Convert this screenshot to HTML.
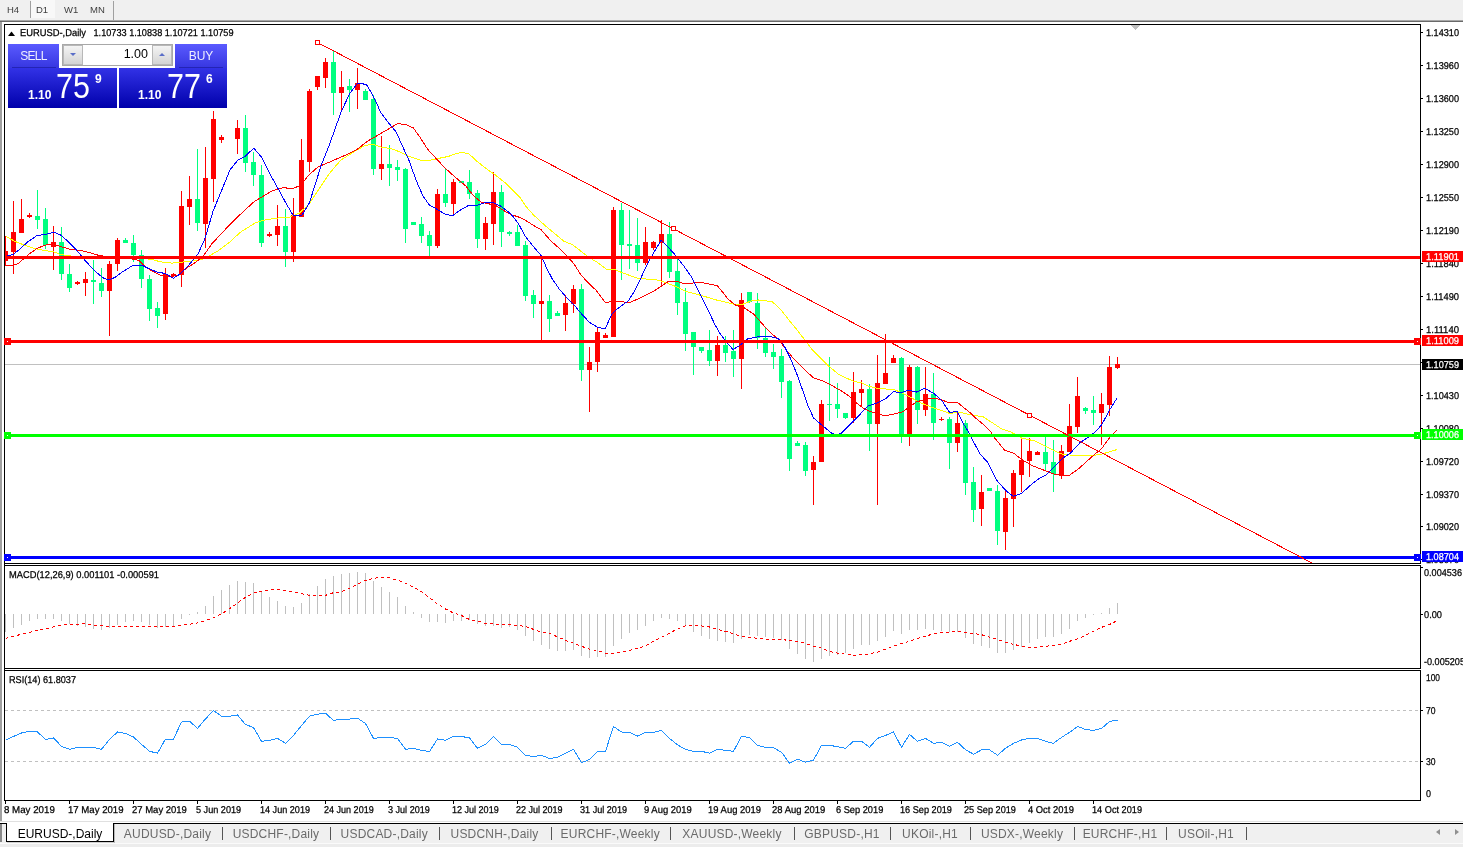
<!DOCTYPE html>
<html><head><meta charset="utf-8"><title>EURUSD-,Daily</title>
<style>
html,body{margin:0;padding:0;background:#fff;}
body{width:1463px;height:847px;position:relative;overflow:hidden;font-family:"Liberation Sans",sans-serif;}
.abs{position:absolute;}
#tb{left:0;top:0;width:1463px;height:20px;background:#f0f0f0;}
#tb span{position:absolute;top:4px;font-size:9.5px;color:#404040;}
#tabs{left:0;top:824px;width:1463px;height:19px;background:#f0f0f0;}
#tabs span{position:absolute;top:3px;font-size:12px;letter-spacing:0.2px;color:#6a6a6a;white-space:nowrap;}
#tabs i{position:absolute;top:3px;width:1px;height:13px;background:#555;}
.btn{background:linear-gradient(#5a5aff,#3636e0);color:#eef;font-size:12px;text-align:center;}
.pp{background:linear-gradient(#3232e6,#0000aa);color:#fff;}
.pp span{position:absolute;white-space:nowrap;}
</style></head><body>
<div id="tb" class="abs"><div class="abs" style="left:31px;top:0;width:24px;height:18px;background:#f8f8f8"></div><span style="left:7px">H4</span><span style="left:36px">D1</span><span style="left:64px">W1</span><span style="left:90px">MN</span>
<div class="abs" style="left:30px;top:1px;width:1px;height:17px;background:#a0a0a0"></div>
<div class="abs" style="left:113px;top:1px;width:1px;height:19px;background:#a0a0a0"></div></div>
<div class="abs" style="left:0;top:20px;width:1463px;height:1px;background:#a8a8a8"></div>
<div class="abs" style="left:0;top:21px;width:1463px;height:1px;background:#696969"></div>
<div class="abs" style="left:0;top:22px;width:2px;height:800px;background:#a0a0a0"></div>
<svg width="1463" height="847" viewBox="0 0 1463 847" style="position:absolute;left:0;top:0" shape-rendering="crispEdges" font-family="'Liberation Sans', sans-serif">
<rect x="4" y="24" width="1417" height="1" fill="#000"/>
<rect x="4" y="24" width="1" height="777" fill="#000"/>
<rect x="1420" y="24" width="1" height="540" fill="#000"/>
<rect x="4" y="563" width="1417" height="1" fill="#000"/>
<rect x="4" y="565" width="1417" height="1" fill="#000"/>
<rect x="1420" y="565" width="1" height="104" fill="#000"/>
<rect x="4" y="668" width="1417" height="1" fill="#000"/>
<rect x="4" y="670" width="1417" height="1" fill="#000"/>
<rect x="1420" y="670" width="1" height="131" fill="#000"/>
<rect x="4" y="800" width="1417" height="1" fill="#000"/>
<rect x="1131" y="25" width="9" height="1" fill="#c0c0c0"/>
<rect x="1132" y="26" width="7" height="1" fill="#c0c0c0"/>
<rect x="1133" y="27" width="5" height="1" fill="#c0c0c0"/>
<rect x="1134" y="28" width="3" height="1" fill="#c0c0c0"/>
<rect x="1135" y="29" width="1" height="1" fill="#c0c0c0"/>
<rect x="5" y="364" width="1415" height="1" fill="#c0c0c0"/>
<g id="candles">
<rect x="5" y="236" width="1" height="30" fill="#ff0000"/>
<rect x="5" y="251" width="3" height="10" fill="#ff0000"/>
<rect x="13" y="201" width="1" height="73" fill="#ff0000"/>
<rect x="11" y="232" width="5" height="20" fill="#ff0000"/>
<rect x="21" y="199" width="1" height="34" fill="#ff0000"/>
<rect x="19" y="219" width="5" height="14" fill="#ff0000"/>
<rect x="29" y="213" width="1" height="5" fill="#ff0000"/>
<rect x="27" y="215" width="5" height="2" fill="#ff0000"/>
<rect x="37" y="190" width="1" height="39" fill="#00ff7f"/>
<rect x="35" y="216" width="5" height="4" fill="#00ff7f"/>
<rect x="45" y="208" width="1" height="41" fill="#00ff7f"/>
<rect x="43" y="219" width="5" height="26" fill="#00ff7f"/>
<rect x="53" y="226" width="1" height="44" fill="#ff0000"/>
<rect x="51" y="242" width="5" height="5" fill="#ff0000"/>
<rect x="61" y="227" width="1" height="53" fill="#00ff7f"/>
<rect x="59" y="242" width="5" height="32" fill="#00ff7f"/>
<rect x="69" y="264" width="1" height="28" fill="#00ff7f"/>
<rect x="67" y="274" width="5" height="14" fill="#00ff7f"/>
<rect x="77" y="281" width="1" height="4" fill="#ff0000"/>
<rect x="75" y="282" width="5" height="2" fill="#ff0000"/>
<rect x="85" y="272" width="1" height="24" fill="#ff0000"/>
<rect x="83" y="279" width="5" height="4" fill="#ff0000"/>
<rect x="93" y="260" width="1" height="44" fill="#00ff7f"/>
<rect x="91" y="280" width="5" height="2" fill="#00ff7f"/>
<rect x="101" y="268" width="1" height="29" fill="#00ff7f"/>
<rect x="99" y="283" width="5" height="8" fill="#00ff7f"/>
<rect x="109" y="261" width="1" height="75" fill="#ff0000"/>
<rect x="107" y="264" width="5" height="27" fill="#ff0000"/>
<rect x="117" y="238" width="1" height="33" fill="#ff0000"/>
<rect x="115" y="240" width="5" height="24" fill="#ff0000"/>
<rect x="125" y="238" width="1" height="5" fill="#00ff7f"/>
<rect x="123" y="240" width="5" height="3" fill="#00ff7f"/>
<rect x="133" y="235" width="1" height="27" fill="#00ff7f"/>
<rect x="131" y="243" width="5" height="12" fill="#00ff7f"/>
<rect x="141" y="250" width="1" height="38" fill="#00ff7f"/>
<rect x="139" y="255" width="5" height="24" fill="#00ff7f"/>
<rect x="149" y="275" width="1" height="46" fill="#00ff7f"/>
<rect x="147" y="279" width="5" height="30" fill="#00ff7f"/>
<rect x="157" y="302" width="1" height="26" fill="#00ff7f"/>
<rect x="155" y="308" width="5" height="8" fill="#00ff7f"/>
<rect x="165" y="268" width="1" height="52" fill="#ff0000"/>
<rect x="163" y="274" width="5" height="40" fill="#ff0000"/>
<rect x="173" y="273" width="1" height="4" fill="#ff0000"/>
<rect x="171" y="274" width="5" height="2" fill="#ff0000"/>
<rect x="181" y="191" width="1" height="96" fill="#ff0000"/>
<rect x="179" y="206" width="5" height="69" fill="#ff0000"/>
<rect x="189" y="176" width="1" height="49" fill="#ff0000"/>
<rect x="187" y="199" width="5" height="8" fill="#ff0000"/>
<rect x="197" y="149" width="1" height="82" fill="#00ff7f"/>
<rect x="195" y="199" width="5" height="24" fill="#00ff7f"/>
<rect x="205" y="147" width="1" height="101" fill="#ff0000"/>
<rect x="203" y="178" width="5" height="46" fill="#ff0000"/>
<rect x="213" y="111" width="1" height="91" fill="#ff0000"/>
<rect x="211" y="119" width="5" height="60" fill="#ff0000"/>
<rect x="221" y="135" width="1" height="8" fill="#ff0000"/>
<rect x="219" y="137" width="5" height="3" fill="#ff0000"/>
<rect x="237" y="120" width="1" height="34" fill="#ff0000"/>
<rect x="235" y="128" width="5" height="11" fill="#ff0000"/>
<rect x="245" y="115" width="1" height="57" fill="#00ff7f"/>
<rect x="243" y="128" width="5" height="35" fill="#00ff7f"/>
<rect x="253" y="152" width="1" height="34" fill="#00ff7f"/>
<rect x="251" y="162" width="5" height="13" fill="#00ff7f"/>
<rect x="261" y="165" width="1" height="82" fill="#00ff7f"/>
<rect x="259" y="175" width="5" height="68" fill="#00ff7f"/>
<rect x="269" y="232" width="1" height="5" fill="#ff0000"/>
<rect x="267" y="234" width="5" height="2" fill="#ff0000"/>
<rect x="277" y="205" width="1" height="41" fill="#ff0000"/>
<rect x="275" y="226" width="5" height="9" fill="#ff0000"/>
<rect x="285" y="209" width="1" height="58" fill="#00ff7f"/>
<rect x="283" y="226" width="5" height="26" fill="#00ff7f"/>
<rect x="293" y="198" width="1" height="64" fill="#ff0000"/>
<rect x="291" y="215" width="5" height="37" fill="#ff0000"/>
<rect x="301" y="139" width="1" height="78" fill="#ff0000"/>
<rect x="299" y="160" width="5" height="57" fill="#ff0000"/>
<rect x="309" y="89" width="1" height="83" fill="#ff0000"/>
<rect x="307" y="91" width="5" height="71" fill="#ff0000"/>
<rect x="317" y="76" width="1" height="14" fill="#ff0000"/>
<rect x="315" y="76" width="5" height="11" fill="#ff0000"/>
<rect x="325" y="58" width="1" height="30" fill="#ff0000"/>
<rect x="323" y="62" width="5" height="16" fill="#ff0000"/>
<rect x="333" y="51" width="1" height="64" fill="#00ff7f"/>
<rect x="331" y="62" width="5" height="31" fill="#00ff7f"/>
<rect x="341" y="71" width="1" height="40" fill="#ff0000"/>
<rect x="339" y="87" width="5" height="6" fill="#ff0000"/>
<rect x="349" y="79" width="1" height="33" fill="#00ff7f"/>
<rect x="347" y="86" width="5" height="4" fill="#00ff7f"/>
<rect x="357" y="68" width="1" height="41" fill="#ff0000"/>
<rect x="355" y="83" width="5" height="7" fill="#ff0000"/>
<rect x="365" y="89" width="1" height="11" fill="#00ff7f"/>
<rect x="363" y="91" width="5" height="9" fill="#00ff7f"/>
<rect x="373" y="95" width="1" height="80" fill="#00ff7f"/>
<rect x="371" y="99" width="5" height="70" fill="#00ff7f"/>
<rect x="381" y="136" width="1" height="44" fill="#ff0000"/>
<rect x="379" y="164" width="5" height="5" fill="#ff0000"/>
<rect x="389" y="145" width="1" height="41" fill="#00ff7f"/>
<rect x="387" y="164" width="5" height="4" fill="#00ff7f"/>
<rect x="397" y="160" width="1" height="21" fill="#00ff7f"/>
<rect x="395" y="167" width="5" height="3" fill="#00ff7f"/>
<rect x="405" y="168" width="1" height="75" fill="#00ff7f"/>
<rect x="403" y="169" width="5" height="60" fill="#00ff7f"/>
<rect x="413" y="222" width="1" height="3" fill="#00ff7f"/>
<rect x="411" y="222" width="5" height="3" fill="#00ff7f"/>
<rect x="421" y="217" width="1" height="26" fill="#00ff7f"/>
<rect x="419" y="224" width="5" height="12" fill="#00ff7f"/>
<rect x="429" y="231" width="1" height="25" fill="#00ff7f"/>
<rect x="427" y="235" width="5" height="11" fill="#00ff7f"/>
<rect x="437" y="189" width="1" height="59" fill="#ff0000"/>
<rect x="435" y="194" width="5" height="52" fill="#ff0000"/>
<rect x="445" y="169" width="1" height="38" fill="#00ff7f"/>
<rect x="443" y="194" width="5" height="9" fill="#00ff7f"/>
<rect x="453" y="179" width="1" height="35" fill="#ff0000"/>
<rect x="451" y="182" width="5" height="22" fill="#ff0000"/>
<rect x="461" y="181" width="1" height="2" fill="#00ff7f"/>
<rect x="459" y="181" width="5" height="2" fill="#00ff7f"/>
<rect x="469" y="170" width="1" height="29" fill="#00ff7f"/>
<rect x="467" y="182" width="5" height="12" fill="#00ff7f"/>
<rect x="477" y="190" width="1" height="58" fill="#00ff7f"/>
<rect x="475" y="193" width="5" height="46" fill="#00ff7f"/>
<rect x="485" y="217" width="1" height="33" fill="#ff0000"/>
<rect x="483" y="223" width="5" height="16" fill="#ff0000"/>
<rect x="493" y="172" width="1" height="73" fill="#ff0000"/>
<rect x="491" y="192" width="5" height="32" fill="#ff0000"/>
<rect x="501" y="185" width="1" height="62" fill="#00ff7f"/>
<rect x="499" y="192" width="5" height="40" fill="#00ff7f"/>
<rect x="509" y="231" width="1" height="5" fill="#00ff7f"/>
<rect x="507" y="232" width="5" height="2" fill="#00ff7f"/>
<rect x="517" y="225" width="1" height="21" fill="#00ff7f"/>
<rect x="515" y="232" width="5" height="14" fill="#00ff7f"/>
<rect x="525" y="241" width="1" height="60" fill="#00ff7f"/>
<rect x="523" y="245" width="5" height="51" fill="#00ff7f"/>
<rect x="533" y="290" width="1" height="28" fill="#00ff7f"/>
<rect x="531" y="295" width="5" height="9" fill="#00ff7f"/>
<rect x="541" y="259" width="1" height="81" fill="#ff0000"/>
<rect x="539" y="301" width="5" height="3" fill="#ff0000"/>
<rect x="549" y="295" width="1" height="37" fill="#00ff7f"/>
<rect x="547" y="301" width="5" height="18" fill="#00ff7f"/>
<rect x="557" y="311" width="1" height="5" fill="#00ff7f"/>
<rect x="555" y="313" width="5" height="3" fill="#00ff7f"/>
<rect x="565" y="295" width="1" height="36" fill="#ff0000"/>
<rect x="563" y="303" width="5" height="12" fill="#ff0000"/>
<rect x="573" y="285" width="1" height="28" fill="#ff0000"/>
<rect x="571" y="289" width="5" height="15" fill="#ff0000"/>
<rect x="581" y="284" width="1" height="97" fill="#00ff7f"/>
<rect x="579" y="289" width="5" height="81" fill="#00ff7f"/>
<rect x="589" y="347" width="1" height="65" fill="#ff0000"/>
<rect x="587" y="362" width="5" height="8" fill="#ff0000"/>
<rect x="597" y="328" width="1" height="44" fill="#ff0000"/>
<rect x="595" y="332" width="5" height="30" fill="#ff0000"/>
<rect x="605" y="333" width="1" height="5" fill="#ff0000"/>
<rect x="603" y="335" width="5" height="3" fill="#ff0000"/>
<rect x="613" y="207" width="1" height="130" fill="#ff0000"/>
<rect x="611" y="210" width="5" height="127" fill="#ff0000"/>
<rect x="621" y="203" width="1" height="77" fill="#00ff7f"/>
<rect x="619" y="210" width="5" height="35" fill="#00ff7f"/>
<rect x="629" y="210" width="1" height="59" fill="#00ff7f"/>
<rect x="627" y="244" width="5" height="2" fill="#00ff7f"/>
<rect x="637" y="218" width="1" height="53" fill="#00ff7f"/>
<rect x="635" y="245" width="5" height="18" fill="#00ff7f"/>
<rect x="645" y="227" width="1" height="38" fill="#ff0000"/>
<rect x="643" y="242" width="5" height="21" fill="#ff0000"/>
<rect x="653" y="241" width="1" height="9" fill="#ff0000"/>
<rect x="651" y="242" width="5" height="6" fill="#ff0000"/>
<rect x="661" y="220" width="1" height="66" fill="#ff0000"/>
<rect x="659" y="234" width="5" height="9" fill="#ff0000"/>
<rect x="669" y="222" width="1" height="56" fill="#00ff7f"/>
<rect x="667" y="234" width="5" height="38" fill="#00ff7f"/>
<rect x="677" y="259" width="1" height="56" fill="#00ff7f"/>
<rect x="675" y="271" width="5" height="32" fill="#00ff7f"/>
<rect x="685" y="288" width="1" height="63" fill="#00ff7f"/>
<rect x="683" y="302" width="5" height="32" fill="#00ff7f"/>
<rect x="693" y="332" width="1" height="43" fill="#00ff7f"/>
<rect x="691" y="332" width="5" height="15" fill="#00ff7f"/>
<rect x="701" y="347" width="1" height="6" fill="#00ff7f"/>
<rect x="699" y="347" width="5" height="4" fill="#00ff7f"/>
<rect x="709" y="330" width="1" height="36" fill="#00ff7f"/>
<rect x="707" y="350" width="5" height="11" fill="#00ff7f"/>
<rect x="717" y="336" width="1" height="40" fill="#ff0000"/>
<rect x="715" y="345" width="5" height="16" fill="#ff0000"/>
<rect x="725" y="336" width="1" height="26" fill="#00ff7f"/>
<rect x="723" y="345" width="5" height="8" fill="#00ff7f"/>
<rect x="733" y="330" width="1" height="47" fill="#00ff7f"/>
<rect x="731" y="351" width="5" height="8" fill="#00ff7f"/>
<rect x="741" y="293" width="1" height="96" fill="#ff0000"/>
<rect x="739" y="300" width="5" height="59" fill="#ff0000"/>
<rect x="749" y="292" width="1" height="11" fill="#00ff7f"/>
<rect x="747" y="292" width="5" height="10" fill="#00ff7f"/>
<rect x="757" y="293" width="1" height="56" fill="#00ff7f"/>
<rect x="755" y="303" width="5" height="35" fill="#00ff7f"/>
<rect x="765" y="328" width="1" height="29" fill="#00ff7f"/>
<rect x="763" y="338" width="5" height="15" fill="#00ff7f"/>
<rect x="773" y="344" width="1" height="25" fill="#00ff7f"/>
<rect x="771" y="352" width="5" height="5" fill="#00ff7f"/>
<rect x="781" y="349" width="1" height="49" fill="#00ff7f"/>
<rect x="779" y="356" width="5" height="26" fill="#00ff7f"/>
<rect x="789" y="380" width="1" height="91" fill="#00ff7f"/>
<rect x="787" y="381" width="5" height="78" fill="#00ff7f"/>
<rect x="797" y="441" width="1" height="5" fill="#00ff7f"/>
<rect x="795" y="443" width="5" height="3" fill="#00ff7f"/>
<rect x="805" y="442" width="1" height="34" fill="#00ff7f"/>
<rect x="803" y="445" width="5" height="26" fill="#00ff7f"/>
<rect x="813" y="456" width="1" height="49" fill="#ff0000"/>
<rect x="811" y="462" width="5" height="8" fill="#ff0000"/>
<rect x="821" y="400" width="1" height="62" fill="#ff0000"/>
<rect x="819" y="404" width="5" height="58" fill="#ff0000"/>
<rect x="829" y="357" width="1" height="64" fill="#00ff7f"/>
<rect x="827" y="404" width="5" height="1" fill="#00ff7f"/>
<rect x="837" y="383" width="1" height="35" fill="#00ff7f"/>
<rect x="835" y="404" width="5" height="5" fill="#00ff7f"/>
<rect x="845" y="413" width="1" height="6" fill="#00ff7f"/>
<rect x="843" y="413" width="5" height="5" fill="#00ff7f"/>
<rect x="853" y="372" width="1" height="51" fill="#ff0000"/>
<rect x="851" y="392" width="5" height="26" fill="#ff0000"/>
<rect x="861" y="380" width="1" height="27" fill="#ff0000"/>
<rect x="859" y="389" width="5" height="4" fill="#ff0000"/>
<rect x="869" y="384" width="1" height="67" fill="#00ff7f"/>
<rect x="867" y="389" width="5" height="35" fill="#00ff7f"/>
<rect x="877" y="355" width="1" height="150" fill="#ff0000"/>
<rect x="875" y="383" width="5" height="41" fill="#ff0000"/>
<rect x="885" y="334" width="1" height="50" fill="#ff0000"/>
<rect x="883" y="373" width="5" height="11" fill="#ff0000"/>
<rect x="893" y="355" width="1" height="8" fill="#ff0000"/>
<rect x="891" y="358" width="5" height="5" fill="#ff0000"/>
<rect x="901" y="357" width="1" height="86" fill="#00ff7f"/>
<rect x="899" y="358" width="5" height="79" fill="#00ff7f"/>
<rect x="909" y="365" width="1" height="81" fill="#ff0000"/>
<rect x="907" y="367" width="5" height="70" fill="#ff0000"/>
<rect x="917" y="366" width="1" height="58" fill="#00ff7f"/>
<rect x="915" y="367" width="5" height="43" fill="#00ff7f"/>
<rect x="925" y="367" width="1" height="49" fill="#ff0000"/>
<rect x="923" y="394" width="5" height="16" fill="#ff0000"/>
<rect x="933" y="373" width="1" height="67" fill="#00ff7f"/>
<rect x="931" y="394" width="5" height="29" fill="#00ff7f"/>
<rect x="941" y="417" width="1" height="4" fill="#ff0000"/>
<rect x="939" y="419" width="5" height="1" fill="#ff0000"/>
<rect x="949" y="417" width="1" height="52" fill="#00ff7f"/>
<rect x="947" y="419" width="5" height="24" fill="#00ff7f"/>
<rect x="957" y="412" width="1" height="40" fill="#ff0000"/>
<rect x="955" y="423" width="5" height="20" fill="#ff0000"/>
<rect x="965" y="420" width="1" height="75" fill="#00ff7f"/>
<rect x="963" y="423" width="5" height="60" fill="#00ff7f"/>
<rect x="973" y="467" width="1" height="55" fill="#00ff7f"/>
<rect x="971" y="482" width="5" height="28" fill="#00ff7f"/>
<rect x="981" y="475" width="1" height="51" fill="#ff0000"/>
<rect x="979" y="492" width="5" height="17" fill="#ff0000"/>
<rect x="989" y="488" width="1" height="3" fill="#00ff7f"/>
<rect x="987" y="488" width="5" height="3" fill="#00ff7f"/>
<rect x="997" y="485" width="1" height="60" fill="#00ff7f"/>
<rect x="995" y="491" width="5" height="40" fill="#00ff7f"/>
<rect x="1005" y="490" width="1" height="60" fill="#ff0000"/>
<rect x="1003" y="498" width="5" height="34" fill="#ff0000"/>
<rect x="1013" y="470" width="1" height="57" fill="#ff0000"/>
<rect x="1011" y="473" width="5" height="26" fill="#ff0000"/>
<rect x="1021" y="438" width="1" height="54" fill="#ff0000"/>
<rect x="1019" y="460" width="5" height="15" fill="#ff0000"/>
<rect x="1029" y="438" width="1" height="39" fill="#ff0000"/>
<rect x="1027" y="451" width="5" height="10" fill="#ff0000"/>
<rect x="1037" y="451" width="1" height="4" fill="#ff0000"/>
<rect x="1035" y="452" width="5" height="3" fill="#ff0000"/>
<rect x="1045" y="437" width="1" height="34" fill="#00ff7f"/>
<rect x="1043" y="452" width="5" height="12" fill="#00ff7f"/>
<rect x="1053" y="440" width="1" height="52" fill="#00ff7f"/>
<rect x="1051" y="462" width="5" height="12" fill="#00ff7f"/>
<rect x="1061" y="445" width="1" height="34" fill="#ff0000"/>
<rect x="1059" y="451" width="5" height="25" fill="#ff0000"/>
<rect x="1069" y="404" width="1" height="48" fill="#ff0000"/>
<rect x="1067" y="426" width="5" height="26" fill="#ff0000"/>
<rect x="1077" y="377" width="1" height="56" fill="#ff0000"/>
<rect x="1075" y="396" width="5" height="31" fill="#ff0000"/>
<rect x="1085" y="407" width="1" height="7" fill="#00ff7f"/>
<rect x="1083" y="408" width="5" height="3" fill="#00ff7f"/>
<rect x="1093" y="396" width="1" height="29" fill="#00ff7f"/>
<rect x="1091" y="410" width="5" height="3" fill="#00ff7f"/>
<rect x="1101" y="393" width="1" height="52" fill="#ff0000"/>
<rect x="1099" y="404" width="5" height="9" fill="#ff0000"/>
<rect x="1109" y="356" width="1" height="60" fill="#ff0000"/>
<rect x="1107" y="367" width="5" height="38" fill="#ff0000"/>
<rect x="1117" y="357" width="1" height="12" fill="#ff0000"/>
<rect x="1115" y="364" width="5" height="4" fill="#ff0000"/>
</g>
<polyline fill="none" stroke="#ffff00" stroke-width="1" points="5.7,236.3 15.0,241.4 24.5,245.2 34.0,248.4 43.4,250.3 53.8,251.8 60.4,254.6 75.0,256.5 100.0,257.5 130.0,257.5 151.0,259.3 160.5,261.8 171.9,263.1 181.3,262.2 190.7,261.2 200.0,259.7 204.6,258.5 217.8,251.0 229.1,242.6 240.4,232.2 255.5,222.8 265.0,219.9 278.2,218.0 289.5,217.1 299.0,213.3 308.4,204.8 317.9,190.7 329.2,173.7 340.5,160.4 353.7,151.9 365.1,145.3 372.6,144.4 382.1,147.2 391.5,148.7 399.4,151.7 408.9,156.4 420.2,160.2 429.7,160.2 439.1,158.3 448.5,156.4 456.1,153.6 462.7,152.3 469.3,154.2 476.9,161.2 486.3,168.7 495.8,175.3 505.2,182.9 512.8,190.4 520.3,198.0 526.0,206.5 533.5,215.0 545.3,225.7 554.5,233.4 563.7,241.1 572.9,244.9 580.6,251.0 589.8,257.9 597.5,262.5 606.7,269.5 614.4,269.5 623.6,273.3 639.0,278.7 654.3,279.4 663.5,281.7 677.3,287.1 686.5,291.7 701.9,295.6 717.2,300.2 733.8,304.2 743.0,304.2 750.7,301.1 758.4,300.0 772.2,301.6 781.4,310.3 789.1,320.3 796.8,329.5 804.4,339.5 812.1,349.5 819.8,357.2 829.0,366.4 838.2,374.0 847.4,378.6 855.1,381.7 861.2,382.5 868.9,386.3 878.1,388.6 893.5,389.4 901.1,392.5 908.8,396.3 918.0,401.7 927.2,405.5 937.3,409.1 949.6,413.4 958.8,412.2 971.0,414.8 983.3,416.8 992.5,422.9 1001.8,429.0 1011.0,432.1 1021.7,438.1 1035.5,441.1 1047.8,447.3 1060.1,453.7 1072.4,455.3 1090.8,455.7 1101.5,454.2 1109.2,451.9 1116.9,449.6"/>
<polyline fill="none" stroke="#ff0000" stroke-width="1" points="5.0,265.5 13.2,265.5 19.0,263.0 28.3,254.6 37.8,248.0 47.2,244.6 53.8,244.2 62.3,247.0 69.9,249.3 79.3,250.3 88.8,252.3 98.2,255.2 110.0,257.0 125.0,257.5 138.8,260.3 145.4,266.9 153.0,271.6 160.5,275.4 170.0,276.7 177.5,275.4 187.0,267.8 194.5,263.0 202.7,256.8 212.1,243.5 225.3,229.4 240.4,214.3 253.7,202.0 263.1,196.3 272.5,190.7 282.9,187.8 293.3,188.4 300.9,185.0 308.4,175.5 317.9,167.0 331.1,161.4 346.2,154.8 357.5,149.1 367.0,141.5 378.3,134.9 389.6,128.3 397.7,123.6 406.2,124.6 413.3,127.9 420.4,137.8 427.5,149.1 433.4,155.5 444.8,167.8 454.2,176.3 465.5,185.7 473.1,195.2 480.6,201.8 488.2,203.7 495.8,205.5 503.3,210.3 510.9,214.6 518.4,216.9 526.0,220.6 533.5,225.4 541.1,229.7 550.5,240.5 560.0,249.0 567.5,256.5 574.1,264.1 580.7,274.5 588.3,283.0 596.0,290.2 605.2,302.5 614.4,301.2 629.7,302.5 640.5,297.9 654.3,290.9 662.0,285.6 668.1,281.7 677.3,281.4 685.0,284.0 700.4,282.2 717.2,285.6 724.9,294.8 727.7,298.8 735.4,305.0 744.6,308.0 753.8,314.2 764.5,326.4 772.2,334.1 778.3,339.5 786.0,349.5 793.7,358.7 801.4,366.4 807.5,372.5 813.6,377.9 822.9,380.9 832.1,385.6 841.3,390.9 850.5,397.1 856.6,403.2 862.8,407.8 870.4,411.6 876.6,413.4 884.3,415.7 893.5,414.2 902.7,411.9 908.8,407.3 916.5,401.9 924.2,399.6 931.8,398.1 938.8,399.1 948.0,402.2 957.2,402.2 969.5,412.2 974.1,416.8 983.3,424.4 991.0,432.1 994.1,437.3 1004.8,450.4 1014.0,453.4 1021.7,459.6 1032.5,465.7 1046.3,471.1 1055.5,474.6 1069.3,475.4 1078.5,468.8 1086.2,461.9 1093.9,455.0 1101.5,448.8 1109.2,438.1 1116.9,430.3"/>
<polyline fill="none" stroke="#0000ff" stroke-width="1" points="5.7,256.5 8.5,255.5 13.2,254.6 18.9,249.9 28.3,241.4 36.8,235.7 45.3,234.4 53.8,232.3 60.4,234.8 68.0,241.4 75.5,248.9 85.0,260.3 94.4,270.7 103.0,277.8 108.6,280.0 115.2,277.3 122.8,271.6 132.2,265.9 141.6,265.0 149.2,268.8 156.8,272.0 165.3,273.5 173.4,278.2 179.4,274.4 188.9,265.0 197.9,254.0 204.6,239.8 213.0,211.4 221.5,190.7 230.0,169.9 237.6,160.4 245.2,156.3 253.7,148.2 261.2,156.7 269.7,173.7 278.2,188.8 285.8,202.9 293.3,215.6 301.8,215.6 309.4,202.9 315.0,185.0 321.6,164.2 329.2,145.3 336.8,124.0 341.0,112.3 349.5,93.9 356.6,84.2 359.4,83.2 366.5,84.6 373.6,96.7 380.7,112.3 389.2,123.6 396.3,132.1 401.9,144.9 408.9,160.2 416.4,181.0 423.0,196.1 429.7,205.5 437.2,209.3 444.8,214.0 452.3,215.9 459.9,210.3 468.4,205.5 476.9,205.5 484.4,202.7 492.9,202.3 501.4,206.5 510.9,214.0 518.4,223.5 525.0,236.0 533.3,246.4 540.9,255.2 546.4,267.5 552.0,278.5 559.1,288.8 566.8,297.9 574.5,305.5 582.2,314.7 589.8,322.6 597.5,327.2 605.2,328.8 611.3,315.0 617.5,308.8 628.2,300.9 634.3,291.7 640.5,278.7 648.2,262.5 654.3,251.8 661.2,240.3 668.1,247.2 675.8,255.6 683.5,265.6 691.1,276.4 697.3,288.6 703.4,300.9 709.6,313.2 714.9,324.7 720.0,333.4 726.1,341.8 733.0,349.5 738.4,346.4 743.0,343.0 747.6,339.0 755.3,337.2 766.0,336.1 773.7,337.2 779.9,339.5 784.5,346.4 790.6,358.7 796.8,374.0 802.9,390.9 807.5,404.5 813.6,418.0 824.4,427.2 832.0,433.4 836.5,435.0 841.3,433.4 849.0,425.7 855.0,419.6 859.7,414.7 867.4,406.3 876.6,403.2 885.8,398.6 893.5,391.7 901.1,392.5 908.8,390.2 916.5,392.0 924.9,388.2 934.2,393.7 941.9,400.6 949.6,412.5 957.2,411.4 963.4,423.7 969.5,433.6 971.0,437.3 980.3,454.2 987.9,462.6 997.2,481.0 1006.4,491.0 1013.3,496.4 1021.7,493.3 1030.9,484.9 1038.6,478.8 1046.3,474.9 1054.0,467.2 1063.2,458.0 1070.8,452.7 1080.0,442.7 1089.3,436.5 1093.9,432.9 1101.5,425.2 1109.2,410.6 1116.9,398.3"/>
<rect x="5" y="256" width="1415" height="3" fill="#ff0000"/>
<rect x="5" y="340" width="1415" height="3" fill="#ff0000"/>
<rect x="4" y="338" width="7" height="7" fill="#ff0000"/>
<rect x="7" y="341" width="1" height="1" fill="#fff"/>
<rect x="1414" y="338" width="7" height="7" fill="#ff0000"/>
<rect x="1417" y="341" width="1" height="1" fill="#fff"/>
<rect x="5" y="434" width="1415" height="3" fill="#00ff00"/>
<rect x="4" y="432" width="7" height="7" fill="#00ff00"/>
<rect x="7" y="435" width="1" height="1" fill="#fff"/>
<rect x="1414" y="432" width="7" height="7" fill="#00ff00"/>
<rect x="1417" y="435" width="1" height="1" fill="#fff"/>
<rect x="5" y="556" width="1415" height="3" fill="#0000ff"/>
<rect x="4" y="554" width="7" height="7" fill="#0000ff"/>
<rect x="7" y="557" width="1" height="1" fill="#fff"/>
<rect x="1414" y="554" width="7" height="7" fill="#0000ff"/>
<rect x="1417" y="557" width="1" height="1" fill="#fff"/>
<polyline fill="none" stroke="#ff0000" stroke-width="1" points="317.5,42.5 1312.0,563.0"/>
<rect x="315.5" y="40.5" width="4" height="4" fill="#fff" stroke="#ff0000" stroke-width="1"/>
<rect x="671.5" y="226.5" width="4" height="4" fill="#fff" stroke="#ff0000" stroke-width="1"/>
<rect x="1027.5" y="413.5" width="4" height="4" fill="#fff" stroke="#ff0000" stroke-width="1"/>
<rect x="5" y="614" width="1" height="18" fill="#c0c0c0"/>
<rect x="13" y="614" width="1" height="14" fill="#c0c0c0"/>
<rect x="21" y="614" width="1" height="11" fill="#c0c0c0"/>
<rect x="29" y="614" width="1" height="7" fill="#c0c0c0"/>
<rect x="37" y="614" width="1" height="5" fill="#c0c0c0"/>
<rect x="45" y="614" width="1" height="5" fill="#c0c0c0"/>
<rect x="53" y="614" width="1" height="5" fill="#c0c0c0"/>
<rect x="61" y="614" width="1" height="7" fill="#c0c0c0"/>
<rect x="69" y="614" width="1" height="10" fill="#c0c0c0"/>
<rect x="77" y="614" width="1" height="12" fill="#c0c0c0"/>
<rect x="85" y="614" width="1" height="13" fill="#c0c0c0"/>
<rect x="93" y="614" width="1" height="15" fill="#c0c0c0"/>
<rect x="101" y="614" width="1" height="16" fill="#c0c0c0"/>
<rect x="109" y="614" width="1" height="14" fill="#c0c0c0"/>
<rect x="117" y="614" width="1" height="11" fill="#c0c0c0"/>
<rect x="125" y="614" width="1" height="8" fill="#c0c0c0"/>
<rect x="133" y="614" width="1" height="7" fill="#c0c0c0"/>
<rect x="141" y="614" width="1" height="8" fill="#c0c0c0"/>
<rect x="149" y="614" width="1" height="11" fill="#c0c0c0"/>
<rect x="157" y="614" width="1" height="14" fill="#c0c0c0"/>
<rect x="165" y="614" width="1" height="13" fill="#c0c0c0"/>
<rect x="173" y="614" width="1" height="12" fill="#c0c0c0"/>
<rect x="181" y="614" width="1" height="5" fill="#c0c0c0"/>
<rect x="189" y="614" width="1" height="1" fill="#c0c0c0"/>
<rect x="197" y="612" width="1" height="2" fill="#c0c0c0"/>
<rect x="205" y="606" width="1" height="8" fill="#c0c0c0"/>
<rect x="213" y="596" width="1" height="18" fill="#c0c0c0"/>
<rect x="221" y="590" width="1" height="24" fill="#c0c0c0"/>
<rect x="229" y="585" width="1" height="29" fill="#c0c0c0"/>
<rect x="237" y="581" width="1" height="33" fill="#c0c0c0"/>
<rect x="245" y="582" width="1" height="32" fill="#c0c0c0"/>
<rect x="253" y="583" width="1" height="31" fill="#c0c0c0"/>
<rect x="261" y="591" width="1" height="23" fill="#c0c0c0"/>
<rect x="269" y="597" width="1" height="17" fill="#c0c0c0"/>
<rect x="277" y="601" width="1" height="13" fill="#c0c0c0"/>
<rect x="285" y="606" width="1" height="8" fill="#c0c0c0"/>
<rect x="293" y="607" width="1" height="7" fill="#c0c0c0"/>
<rect x="301" y="603" width="1" height="11" fill="#c0c0c0"/>
<rect x="309" y="594" width="1" height="20" fill="#c0c0c0"/>
<rect x="317" y="586" width="1" height="28" fill="#c0c0c0"/>
<rect x="325" y="579" width="1" height="35" fill="#c0c0c0"/>
<rect x="333" y="576" width="1" height="38" fill="#c0c0c0"/>
<rect x="341" y="574" width="1" height="40" fill="#c0c0c0"/>
<rect x="349" y="573" width="1" height="41" fill="#c0c0c0"/>
<rect x="357" y="572" width="1" height="42" fill="#c0c0c0"/>
<rect x="365" y="573" width="1" height="41" fill="#c0c0c0"/>
<rect x="373" y="581" width="1" height="33" fill="#c0c0c0"/>
<rect x="381" y="587" width="1" height="27" fill="#c0c0c0"/>
<rect x="389" y="592" width="1" height="22" fill="#c0c0c0"/>
<rect x="397" y="597" width="1" height="17" fill="#c0c0c0"/>
<rect x="405" y="606" width="1" height="8" fill="#c0c0c0"/>
<rect x="413" y="612" width="1" height="2" fill="#c0c0c0"/>
<rect x="421" y="614" width="1" height="4" fill="#c0c0c0"/>
<rect x="429" y="614" width="1" height="8" fill="#c0c0c0"/>
<rect x="437" y="614" width="1" height="8" fill="#c0c0c0"/>
<rect x="445" y="614" width="1" height="9" fill="#c0c0c0"/>
<rect x="453" y="614" width="1" height="7" fill="#c0c0c0"/>
<rect x="461" y="614" width="1" height="7" fill="#c0c0c0"/>
<rect x="469" y="614" width="1" height="6" fill="#c0c0c0"/>
<rect x="477" y="614" width="1" height="10" fill="#c0c0c0"/>
<rect x="485" y="614" width="1" height="12" fill="#c0c0c0"/>
<rect x="493" y="614" width="1" height="12" fill="#c0c0c0"/>
<rect x="501" y="614" width="1" height="14" fill="#c0c0c0"/>
<rect x="509" y="614" width="1" height="13" fill="#c0c0c0"/>
<rect x="517" y="614" width="1" height="16" fill="#c0c0c0"/>
<rect x="525" y="614" width="1" height="22" fill="#c0c0c0"/>
<rect x="533" y="614" width="1" height="27" fill="#c0c0c0"/>
<rect x="541" y="614" width="1" height="31" fill="#c0c0c0"/>
<rect x="549" y="614" width="1" height="35" fill="#c0c0c0"/>
<rect x="557" y="614" width="1" height="37" fill="#c0c0c0"/>
<rect x="565" y="614" width="1" height="37" fill="#c0c0c0"/>
<rect x="573" y="614" width="1" height="36" fill="#c0c0c0"/>
<rect x="581" y="614" width="1" height="42" fill="#c0c0c0"/>
<rect x="589" y="614" width="1" height="44" fill="#c0c0c0"/>
<rect x="597" y="614" width="1" height="43" fill="#c0c0c0"/>
<rect x="605" y="614" width="1" height="43" fill="#c0c0c0"/>
<rect x="613" y="614" width="1" height="32" fill="#c0c0c0"/>
<rect x="621" y="614" width="1" height="25" fill="#c0c0c0"/>
<rect x="629" y="614" width="1" height="19" fill="#c0c0c0"/>
<rect x="637" y="614" width="1" height="16" fill="#c0c0c0"/>
<rect x="645" y="614" width="1" height="12" fill="#c0c0c0"/>
<rect x="653" y="614" width="1" height="7" fill="#c0c0c0"/>
<rect x="661" y="614" width="1" height="4" fill="#c0c0c0"/>
<rect x="669" y="614" width="1" height="5" fill="#c0c0c0"/>
<rect x="677" y="614" width="1" height="7" fill="#c0c0c0"/>
<rect x="685" y="614" width="1" height="12" fill="#c0c0c0"/>
<rect x="693" y="614" width="1" height="18" fill="#c0c0c0"/>
<rect x="701" y="614" width="1" height="22" fill="#c0c0c0"/>
<rect x="709" y="614" width="1" height="25" fill="#c0c0c0"/>
<rect x="717" y="614" width="1" height="27" fill="#c0c0c0"/>
<rect x="725" y="614" width="1" height="28" fill="#c0c0c0"/>
<rect x="733" y="614" width="1" height="29" fill="#c0c0c0"/>
<rect x="741" y="614" width="1" height="25" fill="#c0c0c0"/>
<rect x="749" y="614" width="1" height="21" fill="#c0c0c0"/>
<rect x="757" y="614" width="1" height="22" fill="#c0c0c0"/>
<rect x="765" y="614" width="1" height="23" fill="#c0c0c0"/>
<rect x="773" y="614" width="1" height="24" fill="#c0c0c0"/>
<rect x="781" y="614" width="1" height="26" fill="#c0c0c0"/>
<rect x="789" y="614" width="1" height="35" fill="#c0c0c0"/>
<rect x="797" y="614" width="1" height="40" fill="#c0c0c0"/>
<rect x="805" y="614" width="1" height="45" fill="#c0c0c0"/>
<rect x="813" y="614" width="1" height="48" fill="#c0c0c0"/>
<rect x="821" y="614" width="1" height="45" fill="#c0c0c0"/>
<rect x="829" y="614" width="1" height="42" fill="#c0c0c0"/>
<rect x="837" y="614" width="1" height="41" fill="#c0c0c0"/>
<rect x="845" y="614" width="1" height="39" fill="#c0c0c0"/>
<rect x="853" y="614" width="1" height="35" fill="#c0c0c0"/>
<rect x="861" y="614" width="1" height="31" fill="#c0c0c0"/>
<rect x="869" y="614" width="1" height="31" fill="#c0c0c0"/>
<rect x="877" y="614" width="1" height="27" fill="#c0c0c0"/>
<rect x="885" y="614" width="1" height="23" fill="#c0c0c0"/>
<rect x="893" y="614" width="1" height="17" fill="#c0c0c0"/>
<rect x="901" y="614" width="1" height="20" fill="#c0c0c0"/>
<rect x="909" y="614" width="1" height="16" fill="#c0c0c0"/>
<rect x="917" y="614" width="1" height="16" fill="#c0c0c0"/>
<rect x="925" y="614" width="1" height="15" fill="#c0c0c0"/>
<rect x="933" y="614" width="1" height="16" fill="#c0c0c0"/>
<rect x="941" y="614" width="1" height="17" fill="#c0c0c0"/>
<rect x="949" y="614" width="1" height="18" fill="#c0c0c0"/>
<rect x="957" y="614" width="1" height="18" fill="#c0c0c0"/>
<rect x="965" y="614" width="1" height="24" fill="#c0c0c0"/>
<rect x="973" y="614" width="1" height="30" fill="#c0c0c0"/>
<rect x="981" y="614" width="1" height="32" fill="#c0c0c0"/>
<rect x="989" y="614" width="1" height="34" fill="#c0c0c0"/>
<rect x="997" y="614" width="1" height="39" fill="#c0c0c0"/>
<rect x="1005" y="614" width="1" height="39" fill="#c0c0c0"/>
<rect x="1013" y="614" width="1" height="36" fill="#c0c0c0"/>
<rect x="1021" y="614" width="1" height="33" fill="#c0c0c0"/>
<rect x="1029" y="614" width="1" height="29" fill="#c0c0c0"/>
<rect x="1037" y="614" width="1" height="25" fill="#c0c0c0"/>
<rect x="1045" y="614" width="1" height="23" fill="#c0c0c0"/>
<rect x="1053" y="614" width="1" height="23" fill="#c0c0c0"/>
<rect x="1061" y="614" width="1" height="20" fill="#c0c0c0"/>
<rect x="1069" y="614" width="1" height="15" fill="#c0c0c0"/>
<rect x="1077" y="614" width="1" height="7" fill="#c0c0c0"/>
<rect x="1085" y="614" width="1" height="4" fill="#c0c0c0"/>
<rect x="1093" y="614" width="1" height="1" fill="#c0c0c0"/>
<rect x="1101" y="613" width="1" height="1" fill="#c0c0c0"/>
<rect x="1109" y="608" width="1" height="6" fill="#c0c0c0"/>
<rect x="1117" y="603" width="1" height="11" fill="#c0c0c0"/>
<polyline fill="none" stroke="#ff0000" stroke-width="1" points="5.5,638.3 21.4,634.3 37.5,630.4 53.3,627.0 61.4,625.0 85.4,623.8 93.4,625.0 109.4,626.4 125.3,627.0 157.4,626.6 173.2,626.2 181.4,625.4 197.2,623.0 205.4,620.5 213.3,617.9 221.4,613.9 229.3,609.0 237.3,603.2 245.4,597.3 253.3,593.3 261.2,591.1 269.4,589.8 277.3,589.4 285.2,590.3 293.9,592.3 301.4,593.7 309.7,595.3 317.5,596.1 325.6,595.3 333.5,592.7 341.4,591.7 349.4,588.4 357.5,584.2 365.4,580.4 373.4,578.3 381.5,577.5 389.4,577.9 397.5,580.2 405.5,583.2 413.4,587.2 421.5,591.7 429.5,597.7 437.4,604.0 445.5,609.0 453.4,612.9 461.6,615.5 469.5,619.5 477.4,620.9 485.5,623.4 493.5,623.8 501.4,624.6 509.5,624.6 517.5,625.4 525.4,626.4 533.5,629.4 541.4,632.4 549.6,633.4 557.5,636.9 565.4,640.3 573.5,643.3 581.4,646.2 589.5,649.2 597.5,650.6 605.4,653.2 613.5,653.2 621.4,652.2 629.4,650.6 637.5,648.2 645.4,646.2 653.4,641.3 661.5,637.3 669.4,633.4 677.5,628.8 685.5,625.8 693.4,625.4 701.5,626.0 709.5,627.0 717.4,629.4 725.5,631.4 733.4,633.8 741.6,636.3 749.5,637.3 757.4,638.3 765.5,639.3 781.4,639.3 789.5,640.7 797.5,641.3 805.4,643.3 813.5,646.2 821.4,648.2 829.6,651.6 837.5,653.2 845.4,654.2 851.9,655.2 863.8,654.8 869.5,653.6 877.5,652.2 885.4,649.2 893.5,646.2 901.4,643.3 909.4,641.3 917.5,638.3 925.4,636.3 933.4,633.8 941.5,632.6 949.4,632.2 957.5,631.6 965.5,632.4 973.4,633.4 981.5,634.7 989.5,637.3 997.4,639.3 1005.5,642.3 1013.4,644.3 1021.6,646.2 1029.5,647.4 1037.4,647.2 1045.5,646.2 1053.5,645.6 1061.4,644.3 1069.5,641.3 1077.5,638.9 1085.4,635.3 1093.5,631.4 1101.4,627.4 1109.6,624.4 1117.5,620.5" stroke-dasharray="3 3"/>
<rect x="5" y="710" width="1415" height="1" fill="#c0c0c0" style="display:none"/>
<line x1="5" y1="710.5" x2="1420" y2="710.5" stroke="#c0c0c0" stroke-dasharray="3 3"/>
<line x1="5" y1="761.5" x2="1420" y2="761.5" stroke="#c0c0c0" stroke-dasharray="3 3"/>
<polyline fill="none" stroke="#1e90ff" stroke-width="1" points="5.5,740.3 13.5,736.4 21.5,733.0 29.5,731.4 37.5,732.0 45.5,739.4 53.5,738.0 61.5,746.3 69.5,749.3 77.5,747.3 85.5,747.3 93.5,747.3 101.5,749.3 109.5,739.4 117.5,732.0 125.5,733.4 133.5,737.0 141.5,744.3 149.5,751.3 157.5,753.2 165.5,739.0 173.5,739.0 181.5,722.1 189.5,721.1 197.5,728.5 205.5,718.9 213.5,710.6 221.5,716.2 229.5,716.2 237.5,715.0 245.5,724.5 253.5,727.5 261.5,741.3 269.5,740.3 277.5,738.4 285.5,743.3 293.5,735.4 301.5,725.5 309.5,716.2 317.5,714.2 325.5,713.2 333.5,720.5 341.5,719.1 349.5,719.1 357.5,718.1 365.5,723.5 373.5,738.4 381.5,737.4 389.5,737.4 397.5,738.4 405.5,749.3 413.5,748.3 421.5,750.3 429.5,751.6 437.5,739.0 445.5,740.3 453.5,736.4 461.5,736.4 469.5,738.0 477.5,748.3 485.5,744.3 493.5,736.4 501.5,744.3 509.5,744.3 517.5,747.3 525.5,755.2 533.5,756.6 541.5,755.2 549.5,758.6 557.5,757.2 565.5,753.2 573.5,749.3 581.5,762.5 589.5,759.6 597.5,751.3 605.5,751.3 613.5,726.5 621.5,732.0 629.5,732.4 637.5,736.0 645.5,732.4 653.5,732.4 661.5,730.4 669.5,738.4 677.5,744.9 685.5,749.3 693.5,751.3 701.5,751.3 709.5,753.2 717.5,749.3 725.5,750.3 733.5,751.3 741.5,736.4 749.5,737.4 757.5,745.3 765.5,747.3 773.5,747.7 781.5,752.2 789.5,763.1 797.5,759.2 805.5,762.2 813.5,760.2 821.5,745.3 829.5,745.3 837.5,746.7 845.5,748.3 853.5,741.3 861.5,741.3 869.5,747.3 877.5,738.4 885.5,735.4 893.5,732.0 901.5,747.3 909.5,734.4 917.5,741.3 925.5,738.4 933.5,743.3 941.5,742.3 949.5,746.3 957.5,742.3 965.5,749.7 973.5,754.2 981.5,749.9 989.5,749.9 997.5,755.2 1005.5,748.3 1013.5,743.3 1021.5,740.0 1029.5,738.4 1037.5,738.4 1045.5,741.3 1053.5,743.3 1061.5,737.4 1069.5,732.4 1077.5,726.5 1085.5,729.4 1093.5,730.4 1101.5,728.5 1109.5,721.5 1117.5,720.1"/>
<rect x="1421" y="32" width="2" height="1" fill="#000"/>
<text x="1426" y="36" font-size="9.9" fill="#000" stroke="#000" stroke-width="0.25" text-rendering="geometricPrecision" textLength="33" lengthAdjust="spacingAndGlyphs">1.14310</text>
<rect x="1421" y="65" width="2" height="1" fill="#000"/>
<text x="1426" y="69" font-size="9.9" fill="#000" stroke="#000" stroke-width="0.25" text-rendering="geometricPrecision" textLength="33" lengthAdjust="spacingAndGlyphs">1.13960</text>
<rect x="1421" y="98" width="2" height="1" fill="#000"/>
<text x="1426" y="102" font-size="9.9" fill="#000" stroke="#000" stroke-width="0.25" text-rendering="geometricPrecision" textLength="33" lengthAdjust="spacingAndGlyphs">1.13600</text>
<rect x="1421" y="131" width="2" height="1" fill="#000"/>
<text x="1426" y="135" font-size="9.9" fill="#000" stroke="#000" stroke-width="0.25" text-rendering="geometricPrecision" textLength="33" lengthAdjust="spacingAndGlyphs">1.13250</text>
<rect x="1421" y="164" width="2" height="1" fill="#000"/>
<text x="1426" y="168" font-size="9.9" fill="#000" stroke="#000" stroke-width="0.25" text-rendering="geometricPrecision" textLength="33" lengthAdjust="spacingAndGlyphs">1.12900</text>
<rect x="1421" y="197" width="2" height="1" fill="#000"/>
<text x="1426" y="201" font-size="9.9" fill="#000" stroke="#000" stroke-width="0.25" text-rendering="geometricPrecision" textLength="33" lengthAdjust="spacingAndGlyphs">1.12550</text>
<rect x="1421" y="230" width="2" height="1" fill="#000"/>
<text x="1426" y="234" font-size="9.9" fill="#000" stroke="#000" stroke-width="0.25" text-rendering="geometricPrecision" textLength="33" lengthAdjust="spacingAndGlyphs">1.12190</text>
<rect x="1421" y="263" width="2" height="1" fill="#000"/>
<text x="1426" y="267" font-size="9.9" fill="#000" stroke="#000" stroke-width="0.25" text-rendering="geometricPrecision" textLength="33" lengthAdjust="spacingAndGlyphs">1.11840</text>
<rect x="1421" y="296" width="2" height="1" fill="#000"/>
<text x="1426" y="300" font-size="9.9" fill="#000" stroke="#000" stroke-width="0.25" text-rendering="geometricPrecision" textLength="33" lengthAdjust="spacingAndGlyphs">1.11490</text>
<rect x="1421" y="329" width="2" height="1" fill="#000"/>
<text x="1426" y="333" font-size="9.9" fill="#000" stroke="#000" stroke-width="0.25" text-rendering="geometricPrecision" textLength="33" lengthAdjust="spacingAndGlyphs">1.11140</text>
<rect x="1421" y="362" width="2" height="1" fill="#000"/>
<text x="1426" y="366" font-size="9.9" fill="#000" stroke="#000" stroke-width="0.25" text-rendering="geometricPrecision" textLength="33" lengthAdjust="spacingAndGlyphs">1.10790</text>
<rect x="1421" y="395" width="2" height="1" fill="#000"/>
<text x="1426" y="399" font-size="9.9" fill="#000" stroke="#000" stroke-width="0.25" text-rendering="geometricPrecision" textLength="33" lengthAdjust="spacingAndGlyphs">1.10430</text>
<rect x="1421" y="428" width="2" height="1" fill="#000"/>
<text x="1426" y="432" font-size="9.9" fill="#000" stroke="#000" stroke-width="0.25" text-rendering="geometricPrecision" textLength="33" lengthAdjust="spacingAndGlyphs">1.10080</text>
<rect x="1421" y="461" width="2" height="1" fill="#000"/>
<text x="1426" y="465" font-size="9.9" fill="#000" stroke="#000" stroke-width="0.25" text-rendering="geometricPrecision" textLength="33" lengthAdjust="spacingAndGlyphs">1.09720</text>
<rect x="1421" y="494" width="2" height="1" fill="#000"/>
<text x="1426" y="498" font-size="9.9" fill="#000" stroke="#000" stroke-width="0.25" text-rendering="geometricPrecision" textLength="33" lengthAdjust="spacingAndGlyphs">1.09370</text>
<rect x="1421" y="526" width="2" height="1" fill="#000"/>
<text x="1426" y="530" font-size="9.9" fill="#000" stroke="#000" stroke-width="0.25" text-rendering="geometricPrecision" textLength="33" lengthAdjust="spacingAndGlyphs">1.09020</text>
<rect x="1421" y="559" width="2" height="1" fill="#000"/>
<text x="1426" y="563" font-size="9.9" fill="#000" stroke="#000" stroke-width="0.25" text-rendering="geometricPrecision" textLength="33" lengthAdjust="spacingAndGlyphs">1.08670</text>
<text x="1424" y="576" font-size="9.9" fill="#000" stroke="#000" stroke-width="0.25" text-rendering="geometricPrecision" textLength="38" lengthAdjust="spacingAndGlyphs">0.004536</text>
<text x="1424" y="618" font-size="9.9" fill="#000" stroke="#000" stroke-width="0.25" text-rendering="geometricPrecision" textLength="18" lengthAdjust="spacingAndGlyphs">0.00</text>
<text x="1424" y="665" font-size="9.9" fill="#000" stroke="#000" stroke-width="0.25" text-rendering="geometricPrecision" textLength="41" lengthAdjust="spacingAndGlyphs">-0.005205</text>
<rect x="1421" y="567" width="2" height="1" fill="#000"/>
<rect x="1421" y="614" width="2" height="1" fill="#000"/>
<text x="1426" y="681" font-size="9.9" fill="#000" stroke="#000" stroke-width="0.25" text-rendering="geometricPrecision" textLength="14" lengthAdjust="spacingAndGlyphs">100</text>
<text x="1426" y="714" font-size="9.9" fill="#000" stroke="#000" stroke-width="0.25" text-rendering="geometricPrecision" textLength="9.5" lengthAdjust="spacingAndGlyphs">70</text>
<text x="1426" y="765" font-size="9.9" fill="#000" stroke="#000" stroke-width="0.25" text-rendering="geometricPrecision" textLength="9.5" lengthAdjust="spacingAndGlyphs">30</text>
<text x="1426" y="797" font-size="9.9" fill="#000" stroke="#000" stroke-width="0.25" text-rendering="geometricPrecision" textLength="5" lengthAdjust="spacingAndGlyphs">0</text>
<rect x="1421" y="710" width="2" height="1" fill="#000"/>
<rect x="1421" y="761" width="2" height="1" fill="#000"/>
<rect x="1422" y="251" width="41" height="11" fill="#ff0000"/>
<text x="1426" y="260" font-size="9.9" fill="#fff" stroke="#fff" stroke-width="0.25" text-rendering="geometricPrecision" textLength="33" lengthAdjust="spacingAndGlyphs">1.11901</text>
<rect x="1422" y="335" width="41" height="11" fill="#ff0000"/>
<text x="1426" y="344" font-size="9.9" fill="#fff" stroke="#fff" stroke-width="0.25" text-rendering="geometricPrecision" textLength="33" lengthAdjust="spacingAndGlyphs">1.11009</text>
<rect x="1422" y="359" width="41" height="11" fill="#000000"/>
<text x="1426" y="368" font-size="9.9" fill="#fff" stroke="#fff" stroke-width="0.25" text-rendering="geometricPrecision" textLength="33" lengthAdjust="spacingAndGlyphs">1.10759</text>
<rect x="1422" y="429" width="41" height="11" fill="#00ff00"/>
<text x="1426" y="438" font-size="9.9" fill="#fff" stroke="#fff" stroke-width="0.25" text-rendering="geometricPrecision" textLength="33" lengthAdjust="spacingAndGlyphs">1.10006</text>
<rect x="1422" y="551" width="41" height="11" fill="#0000ff"/>
<text x="1426" y="560" font-size="9.9" fill="#fff" stroke="#fff" stroke-width="0.25" text-rendering="geometricPrecision" textLength="33" lengthAdjust="spacingAndGlyphs">1.08704</text>
<rect x="5" y="801" width="1" height="3" fill="#000"/>
<text x="4" y="813" font-size="9.9" fill="#000" stroke="#000" stroke-width="0.25" text-rendering="geometricPrecision" textLength="50.8" lengthAdjust="spacingAndGlyphs">8 May 2019</text>
<rect x="69" y="801" width="1" height="3" fill="#000"/>
<text x="68" y="813" font-size="9.9" fill="#000" stroke="#000" stroke-width="0.25" text-rendering="geometricPrecision" textLength="55.5" lengthAdjust="spacingAndGlyphs">17 May 2019</text>
<rect x="133" y="801" width="1" height="3" fill="#000"/>
<text x="132" y="813" font-size="9.9" fill="#000" stroke="#000" stroke-width="0.25" text-rendering="geometricPrecision" textLength="54.9" lengthAdjust="spacingAndGlyphs">27 May 2019</text>
<rect x="197" y="801" width="1" height="3" fill="#000"/>
<text x="196" y="813" font-size="9.9" fill="#000" stroke="#000" stroke-width="0.25" text-rendering="geometricPrecision" textLength="45.1" lengthAdjust="spacingAndGlyphs">5 Jun 2019</text>
<rect x="261" y="801" width="1" height="3" fill="#000"/>
<text x="260" y="813" font-size="9.9" fill="#000" stroke="#000" stroke-width="0.25" text-rendering="geometricPrecision" textLength="50" lengthAdjust="spacingAndGlyphs">14 Jun 2019</text>
<rect x="325" y="801" width="1" height="3" fill="#000"/>
<text x="324" y="813" font-size="9.9" fill="#000" stroke="#000" stroke-width="0.25" text-rendering="geometricPrecision" textLength="49.7" lengthAdjust="spacingAndGlyphs">24 Jun 2019</text>
<rect x="389" y="801" width="1" height="3" fill="#000"/>
<text x="388" y="813" font-size="9.9" fill="#000" stroke="#000" stroke-width="0.25" text-rendering="geometricPrecision" textLength="41.8" lengthAdjust="spacingAndGlyphs">3 Jul 2019</text>
<rect x="453" y="801" width="1" height="3" fill="#000"/>
<text x="452" y="813" font-size="9.9" fill="#000" stroke="#000" stroke-width="0.25" text-rendering="geometricPrecision" textLength="46.7" lengthAdjust="spacingAndGlyphs">12 Jul 2019</text>
<rect x="517" y="801" width="1" height="3" fill="#000"/>
<text x="516" y="813" font-size="9.9" fill="#000" stroke="#000" stroke-width="0.25" text-rendering="geometricPrecision" textLength="46.5" lengthAdjust="spacingAndGlyphs">22 Jul 2019</text>
<rect x="581" y="801" width="1" height="3" fill="#000"/>
<text x="580" y="813" font-size="9.9" fill="#000" stroke="#000" stroke-width="0.25" text-rendering="geometricPrecision" textLength="47" lengthAdjust="spacingAndGlyphs">31 Jul 2019</text>
<rect x="645" y="801" width="1" height="3" fill="#000"/>
<text x="644" y="813" font-size="9.9" fill="#000" stroke="#000" stroke-width="0.25" text-rendering="geometricPrecision" textLength="47.8" lengthAdjust="spacingAndGlyphs">9 Aug 2019</text>
<rect x="709" y="801" width="1" height="3" fill="#000"/>
<text x="708" y="813" font-size="9.9" fill="#000" stroke="#000" stroke-width="0.25" text-rendering="geometricPrecision" textLength="53" lengthAdjust="spacingAndGlyphs">19 Aug 2019</text>
<rect x="773" y="801" width="1" height="3" fill="#000"/>
<text x="772" y="813" font-size="9.9" fill="#000" stroke="#000" stroke-width="0.25" text-rendering="geometricPrecision" textLength="53.3" lengthAdjust="spacingAndGlyphs">28 Aug 2019</text>
<rect x="837" y="801" width="1" height="3" fill="#000"/>
<text x="836" y="813" font-size="9.9" fill="#000" stroke="#000" stroke-width="0.25" text-rendering="geometricPrecision" textLength="47.3" lengthAdjust="spacingAndGlyphs">6 Sep 2019</text>
<rect x="901" y="801" width="1" height="3" fill="#000"/>
<text x="900" y="813" font-size="9.9" fill="#000" stroke="#000" stroke-width="0.25" text-rendering="geometricPrecision" textLength="51.9" lengthAdjust="spacingAndGlyphs">16 Sep 2019</text>
<rect x="965" y="801" width="1" height="3" fill="#000"/>
<text x="964" y="813" font-size="9.9" fill="#000" stroke="#000" stroke-width="0.25" text-rendering="geometricPrecision" textLength="51.9" lengthAdjust="spacingAndGlyphs">25 Sep 2019</text>
<rect x="1029" y="801" width="1" height="3" fill="#000"/>
<text x="1028" y="813" font-size="9.9" fill="#000" stroke="#000" stroke-width="0.25" text-rendering="geometricPrecision" textLength="45.9" lengthAdjust="spacingAndGlyphs">4 Oct 2019</text>
<rect x="1093" y="801" width="1" height="3" fill="#000"/>
<text x="1092" y="813" font-size="9.9" fill="#000" stroke="#000" stroke-width="0.25" text-rendering="geometricPrecision" textLength="50" lengthAdjust="spacingAndGlyphs">14 Oct 2019</text>
<polygon points="8,36 15,36 11.5,31.5" fill="#000" shape-rendering="auto"/>
<text x="20" y="36" font-size="9.9" fill="#000" stroke="#000" stroke-width="0.25" text-rendering="geometricPrecision" textLength="66" lengthAdjust="spacingAndGlyphs">EURUSD-,Daily</text>
<text x="93.5" y="36" font-size="9.9" fill="#000" stroke="#000" stroke-width="0.25" text-rendering="geometricPrecision" textLength="140" lengthAdjust="spacingAndGlyphs">1.10733 1.10838 1.10721 1.10759</text>
<text x="9" y="578" font-size="9.9" fill="#000" stroke="#000" stroke-width="0.25" text-rendering="geometricPrecision" textLength="150" lengthAdjust="spacingAndGlyphs">MACD(12,26,9) 0.001101 -0.000591</text>
<text x="9" y="683" font-size="9.9" fill="#000" stroke="#000" stroke-width="0.25" text-rendering="geometricPrecision" textLength="67" lengthAdjust="spacingAndGlyphs">RSI(14) 61.8037</text>
</svg>
<!-- one click trading -->
<div class="abs btn" style="left:8px;top:44px;width:51px;height:24px;line-height:24px;letter-spacing:-0.7px">SELL</div>
<div class="abs btn" style="left:175px;top:44px;width:52px;height:24px;line-height:24px">BUY</div>
<div class="abs" style="left:12px;top:68px;width:44px;height:1px;background:#8c8cf8"></div>
<div class="abs" style="left:179px;top:68px;width:44px;height:1px;background:#8c8cf8"></div>
<div class="abs" style="left:62px;top:44px;width:111px;height:22px;border:1px solid #a8a8a8;box-sizing:border-box;background:#fff"></div>
<div class="abs" style="left:63px;top:45px;width:20px;height:20px;background:linear-gradient(#f4f4f4,#d4d4d4);border:1px solid #b8b8b8;box-sizing:border-box"></div>
<div class="abs" style="left:152px;top:45px;width:20px;height:20px;background:linear-gradient(#f4f4f4,#d4d4d4);border:1px solid #b8b8b8;box-sizing:border-box"></div>
<div class="abs" style="left:70px;top:53px;width:0;height:0;border-left:3px solid transparent;border-right:3px solid transparent;border-top:3px solid #5a6ec8"></div>
<div class="abs" style="left:158.5px;top:53px;width:0;height:0;border-left:3px solid transparent;border-right:3px solid transparent;border-bottom:3px solid #5a6ec8"></div>
<div class="abs" style="left:84px;top:47px;width:64px;text-align:right;font-size:12.5px;color:#000">1.00</div>
<div class="abs pp" style="left:8px;top:68px;width:109px;height:40px"><span style="left:20px;top:20px;font-size:12px;font-weight:bold">1.10</span><span style="left:47.5px;top:-1px;font-size:35px;line-height:38px;transform:scaleX(.87);transform-origin:0 0">75</span><span style="left:87px;top:4px;font-size:12px;font-weight:bold">9</span></div>
<div class="abs pp" style="left:119px;top:68px;width:108px;height:40px"><span style="left:19px;top:20px;font-size:12px;font-weight:bold">1.10</span><span style="left:47.5px;top:-1px;font-size:35px;line-height:38px;transform:scaleX(.87);transform-origin:0 0">77</span><span style="left:87px;top:4px;font-size:12px;font-weight:bold">6</span></div>
<div class="abs" style="left:12px;top:67px;width:44px;height:1px;background:#2424b4"></div><div class="abs" style="left:179px;top:67px;width:44px;height:1px;background:#2424b4"></div>
<!-- bottom tabs -->
<div class="abs" style="left:0;top:821px;width:1463px;height:1px;background:#e0e0e0"></div>
<div class="abs" style="left:0;top:823px;width:1463px;height:1px;background:#000"></div>
<div id="tabs" class="abs"><span style="left:113px;width:109px;text-align:center">AUDUSD-,Daily</span><i style="left:222px"></i><span style="left:222px;width:108px;text-align:center">USDCHF-,Daily</span><i style="left:330px"></i><span style="left:330px;width:108.5px;text-align:center">USDCAD-,Daily</span><i style="left:438.5px"></i><span style="left:438.5px;width:112px;text-align:center">USDCNH-,Daily</span><i style="left:550.5px"></i><span style="left:550.5px;width:119.5px;text-align:center">EURCHF-,Weekly</span><i style="left:670px"></i><span style="left:670px;width:124px;text-align:center">XAUUSD-,Weekly</span><i style="left:794px"></i><span style="left:794px;width:96px;text-align:center">GBPUSD-,H1</span><i style="left:890px"></i><span style="left:890px;width:80px;text-align:center">UKOil-,H1</span><i style="left:970px"></i><span style="left:970px;width:104px;text-align:center">USDX-,Weekly</span><i style="left:1074px"></i><span style="left:1074px;width:92px;text-align:center">EURCHF-,H1</span><i style="left:1166px"></i><span style="left:1166px;width:80px;text-align:center">USOil-,H1</span><i style="left:1246px"></i></div>
<div class="abs" style="left:0;top:843px;width:1463px;height:1px;background:#fafafa"></div><div class="abs" style="left:0;top:844px;width:1463px;height:3px;background:#ececec"></div><div class="abs" style="left:0;top:824px;width:2px;height:18px;background:#888"></div>
<div class="abs" style="left:6px;top:822px;width:108px;height:20px;background:#fff;border:1px solid #000;border-top:none;box-sizing:border-box;font-size:12px;color:#000;text-align:center;line-height:24px">EURUSD-,Daily</div><div class="abs" style="left:6px;top:822px;width:1px;height:1px;background:#fff"></div><div class="abs" style="left:113px;top:822px;width:1px;height:1px;background:#fff"></div><div class="abs" style="left:114px;top:824px;width:1px;height:19px;background:#b8b8b8"></div><div class="abs" style="left:7px;top:842px;width:107px;height:1px;background:#cfcfcf"></div>
<div class="abs" style="left:1435.5px;top:828.5px;width:0;height:0;border-top:3.5px solid transparent;border-bottom:3.5px solid transparent;border-right:4px solid #909090"></div>
<div class="abs" style="left:1454.5px;top:828.5px;width:0;height:0;border-top:3.5px solid transparent;border-bottom:3.5px solid transparent;border-left:4px solid #909090"></div>
</body></html>
